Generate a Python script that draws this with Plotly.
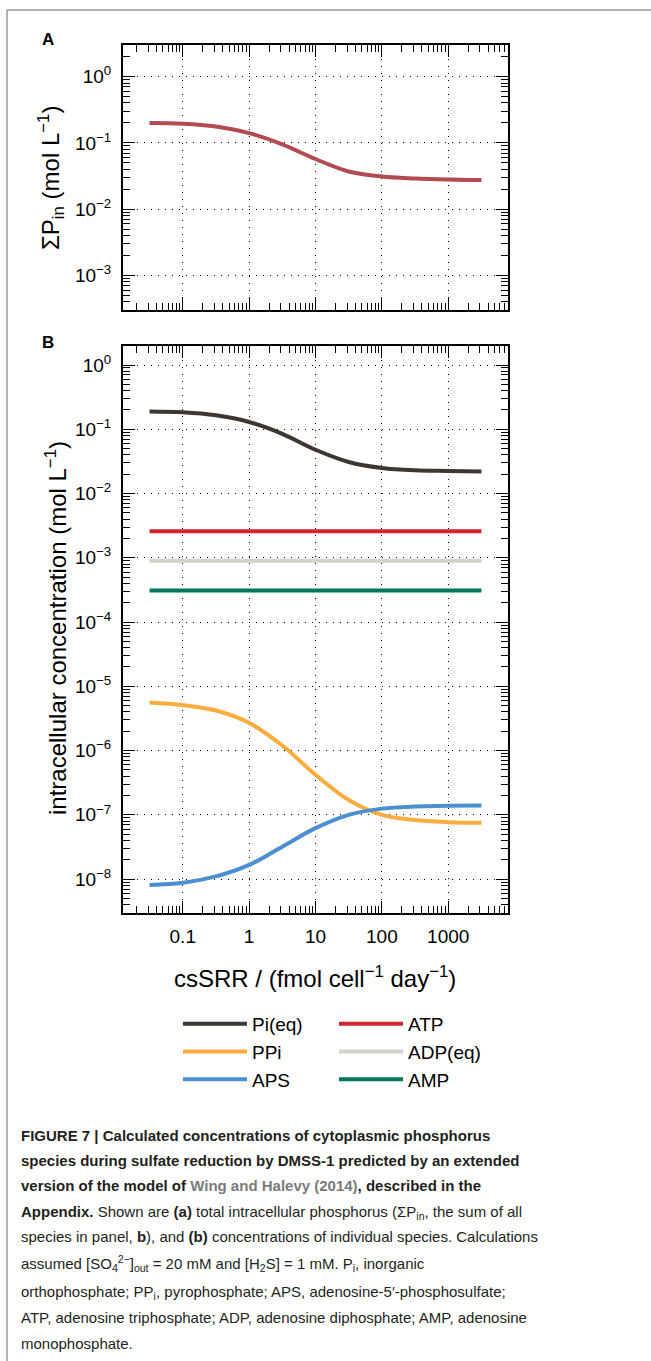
import plotly.graph_objects as go

# ---------------- data ----------------
x_cssrr = [0.0316, 0.1, 0.316, 1.0, 3.16, 10.0, 31.6, 100.0, 316.0, 1000.0, 3162.0]
sum_p_in = [0.200, 0.195, 0.176, 0.140, 0.095, 0.057, 0.037, 0.031, 0.029, 0.028, 0.0275]
pi_eq = [0.190, 0.184, 0.165, 0.130, 0.085, 0.048, 0.031, 0.025, 0.023, 0.0225, 0.022]
ppi = [5.6e-6, 5.1e-6, 4.2e-6, 2.7e-6, 1.2e-6, 4.2e-7, 1.7e-7, 1.0e-7, 8.3e-8, 7.7e-8, 7.5e-8]
aps = [8.1e-9, 8.8e-9, 1.1e-8, 1.66e-8, 3.2e-8, 6.2e-8, 1.0e-7, 1.25e-7, 1.35e-7, 1.38e-7, 1.4e-7]
atp = [0.0026, 0.0026, 0.0026, 0.0026, 0.0026, 0.0026, 0.0026, 0.0026, 0.0026, 0.0026, 0.0026]
adp_eq = [0.0009, 0.0009, 0.0009, 0.0009, 0.0009, 0.0009, 0.0009, 0.0009, 0.0009, 0.0009, 0.0009]
amp = [0.00031, 0.00031, 0.00031, 0.00031, 0.00031, 0.00031, 0.00031, 0.00031, 0.00031, 0.00031, 0.00031]

x_tickvals = [0.1, 1, 10, 100, 1000]
x_ticktext = ["0.1", "1", "10", "100", "1000"]
ya_tickvals = [1, 0.1, 0.01, 0.001]
ya_ticktext = ["10<sup>0</sup>", "10<sup>−1</sup>", "10<sup>−2</sup>", "10<sup>−3</sup>"]
yb_tickvals = [1, 1e-1, 1e-2, 1e-3, 1e-4, 1e-5, 1e-6, 1e-7, 1e-8]
yb_ticktext = ["10<sup>0</sup>", "10<sup>−1</sup>", "10<sup>−2</sup>", "10<sup>−3</sup>",
               "10<sup>−4</sup>", "10<sup>−5</sup>", "10<sup>−6</sup>", "10<sup>−7</sup>",
               "10<sup>−8</sup>"]

W, H = 651, 1361
FONT = "Liberation Sans, Arial, Helvetica, sans-serif"

def minor_vals(lo_exp, hi_exp):
    vals = []
    for e in range(lo_exp, hi_exp + 1):
        for m in range(2, 10):
            vals.append(m * 10.0 ** e)
    return vals

fig = go.Figure()

# Panel A
fig.add_trace(go.Scatter(x=x_cssrr, y=sum_p_in, mode="lines", name="ΣP_in",
                         line=dict(color="#b34a52", width=4, shape="spline"),
                         showlegend=False, xaxis="x", yaxis="y"))

# Panel B
series = [
    ("Pi(eq)", pi_eq, "#3e3631", "legend"),
    ("PPi", ppi, "#fbac3e", "legend"),
    ("APS", aps, "#4b8fd0", "legend"),
    ("ATP", atp, "#d3242e", "legend2"),
    ("ADP(eq)", adp_eq, "#d2d2c6", "legend2"),
    ("AMP", amp, "#00765c", "legend2"),
]
for name, vals, col, leg in series:
    fig.add_trace(go.Scatter(x=x_cssrr, y=vals, mode="lines", name=name,
                             line=dict(color=col, width=4, shape="spline"),
                             xaxis="x2", yaxis="y2", legend=leg))

x0, x1 = 123 / W, 508 / W
common = dict(type="log", showline=True, linecolor="black", linewidth=2,
              mirror="allticks", ticks="inside", ticklen=12, tickwidth=1,
              tickcolor="black", showgrid=True, gridcolor="black", gridwidth=1,
              griddash="1px,6px", zeroline=False)

fig.update_layout(
    width=W, height=H,
    margin=dict(l=0, r=0, t=0, b=0),
    paper_bgcolor="white", plot_bgcolor="white",
    font=dict(family=FONT, color="black", size=19),
    xaxis=dict(common, domain=[x0, x1], anchor="y", range=[-1.9, 3.9],
               tickvals=x_tickvals, ticktext=x_ticktext, showticklabels=False,
               minor=dict(tickvals=minor_vals(-2, 3), ticks="inside", ticklen=7,
                          tickwidth=1, tickcolor="black", showgrid=False)),
    yaxis=dict(common, domain=[1 - 310 / H, 1 - 45 / H], anchor="x",
               range=[-3.523, 0.477], tickvals=ya_tickvals, ticktext=ya_ticktext,
               tickfont=dict(size=19), ticklabelstandoff=6,
               minor=dict(tickvals=minor_vals(-4, 0), ticks="inside", ticklen=7,
                          tickwidth=1, tickcolor="black", showgrid=False)),
    xaxis2=dict(common, domain=[x0, x1], anchor="y2", range=[-1.9, 3.9],
                tickvals=x_tickvals, ticktext=x_ticktext, tickfont=dict(size=19),
                ticklabelstandoff=5,
                minor=dict(tickvals=minor_vals(-2, 3), ticks="inside", ticklen=7,
                           tickwidth=1, tickcolor="black", showgrid=False)),
    yaxis2=dict(common, domain=[1 - 912.7 / H, 1 - 345.7 / H], anchor="x2",
                range=[-8.523, 0.301], tickvals=yb_tickvals, ticktext=yb_ticktext,
                tickfont=dict(size=19), ticklabelstandoff=6,
                minor=dict(tickvals=minor_vals(-9, 0), ticks="inside", ticklen=7,
                           tickwidth=1, tickcolor="black", showgrid=False)),
    legend=dict(x=178 / W, y=1 - 1005 / H, xanchor="left", yanchor="top",
                bgcolor="rgba(0,0,0,0)", font=dict(size=19), itemwidth=64,
                tracegroupgap=0),
    legend2=dict(x=334 / W, y=1 - 1005 / H, xanchor="left", yanchor="top",
                 bgcolor="rgba(0,0,0,0)", font=dict(size=19), itemwidth=64,
                 tracegroupgap=0),
)

ann = []
# panel letters
ann.append(dict(x=48 / W, y=1 - 40 / H, text="<b>A</b>", font=dict(size=17)))
ann.append(dict(x=48 / W, y=1 - 342 / H, text="<b>B</b>", font=dict(size=17)))
# axis titles
ann.append(dict(x=51 / W, y=1 - 178 / H, text="ΣP<sub>in</sub> (mol L<sup>−1</sup>)",
                textangle=-90, font=dict(size=24)))
ann.append(dict(x=56 / W, y=1 - 628 / H,
                text="intracellular concentration (mol L<sup>−1</sup>)",
                textangle=-90, font=dict(size=24)))
ann.append(dict(x=315 / W, y=1 - 977 / H,
                text="csSRR / (fmol cell<sup>−1</sup> day<sup>−1</sup>)",
                font=dict(size=24)))

# caption
CAP = "Liberation Sans, Arial, sans-serif"
dark = "#231f20"
link = "#7a7a7a"
caption = [
    "<b>FIGURE 7 | Calculated concentrations of cytoplasmic phosphorus</b>",
    "<b>species during sulfate reduction by DMSS-1 predicted by an extended</b>",
    "<b>version of the model of </b><span style='color:%s'><b>Wing and Halevy (2014)</b></span><b>, described in the</b>" % link,
    "<b>Appendix.</b> Shown are <b>(a)</b> total intracellular phosphorus (ΣP<sub>in</sub>, the sum of all",
    "species in panel, <b>b</b>), and <b>(b)</b> concentrations of individual species. Calculations",
    "assumed [SO<sub>4</sub><sup>2−</sup>]<sub>out</sub> = 20 mM and [H<sub>2</sub>S] = 1 mM. P<sub>i</sub>, inorganic",
    "orthophosphate; PP<sub>i</sub>, pyrophosphate; APS, adenosine-5′-phosphosulfate;",
    "ATP, adenosine triphosphate; ADP, adenosine diphosphate; AMP, adenosine",
    "monophosphate.",
]
cap_y = [1135, 1160, 1185, 1212, 1236, 1263, 1292, 1317, 1343]
for t, yy in zip(caption, cap_y):
    ann.append(dict(x=19 / W, y=1 - yy / H, text=t, xanchor="left",
                    font=dict(size=15, family=CAP, color=dark)))

for a in ann:
    a.setdefault("xref", "paper")
    a.setdefault("yref", "paper")
    a.setdefault("showarrow", False)
    a.setdefault("xanchor", "center")
    a.setdefault("yanchor", "middle")
fig.update_layout(annotations=ann)

# outer frame
fig.update_layout(shapes=[
    dict(type="line", xref="paper", yref="paper", x0=7 / W, x1=1, y0=1 - 10 / H, y1=1 - 10 / H,
         line=dict(color="#666666", width=1)),
    dict(type="line", xref="paper", yref="paper", x0=7 / W, x1=7 / W, y0=0, y1=1 - 10 / H,
         line=dict(color="#666666", width=1)),
])

fig.write_html("out.html")
